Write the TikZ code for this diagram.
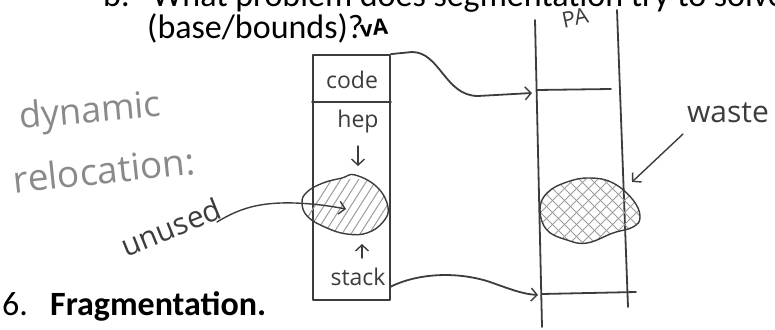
\documentclass[tikz,border=0pt]{standalone}
\usepackage{fontspec}
\setmainfont{Carlito}
\newfontfamily\printfont{Carlito}
\newfontfamily\handfont{Open Sans}
\usetikzlibrary{arrows.meta}
\definecolor{ink}{HTML}{3C3C3C}
\definecolor{penlight}{HTML}{8A8A8A}
\definecolor{hatchgray}{HTML}{9C9C9C}

\begin{document}
\begin{tikzpicture}[x=1pt,y=-1pt,
  print/.style={font=\printfont\fontsize{34}{38}\selectfont, anchor=base west, inner sep=0pt, text=black},
  printbold/.style={print, font=\printfont\fontsize{34}{38}\selectfont\bfseries},
  hand/.style={font=\handfont\fontsize{#1}{#1}\selectfont, text=ink, inner sep=0pt},
  pen/.style={draw=ink, line width=1.8pt, line cap=round, line join=round},
  thinpen/.style={draw=ink, line width=1.4pt, line cap=round, line join=round},
  barb/.style={-{Straight Barb[length=6pt,width=13pt,line width=1.4pt]}},
  hatch/.style={draw=hatchgray, line width=1pt}]

\useasboundingbox (0,0) rectangle (775,329);
\clip (0,0) rectangle (775,329);

% printed question text
\node[print] (qlabel) at (103,7) {b.};
\node[print] (qline1) at (152,7) {What problem does segmentation try to solve that};
\node[print] (qline2) at (147,38) {(base/bounds)?};
\node[font=\handfont\bfseries\fontsize{22}{22}\selectfont, inner sep=0pt, rotate=5] (vamark) at (374,28) {vA};
\node[print] (num6) at (2,315) {6.};
\node[printbold] (frag) at (50,315) {Fragmentation.};

% side notes
\node[hand=36, text=penlight, rotate=5] (dyn) at (90,113) {dynamic};
\node[hand=37, text=penlight, rotate=6] (reloc) at (104,170) {relocation:};

% virtual address space
\node[pen, minimum width=77pt, minimum height=245pt, inner sep=0pt] (va) at (351.5,177.5) {};
\coordinate (divy) at (0,102);
\draw[pen] (va.west |- divy) -- (va.east |- divy);
\node[hand=23] (code) at (352,80) {code};
\node[hand=23] (heap) at (358,122) {hep};
\node[hand=23] (stack) at (358,277) {stack};
\draw[thinpen, barb] (358,146) -- (358,166);
\draw[thinpen, barb] (362,258) -- (362,244);

% unused hole between heap and stack
\def\vahole{(355,175) (377,187) (388,207) (383,222) (367,233) (347,234) (327,228) (308,217) (302,203) (307,192) (323,183) (342,178)}
\begin{scope}
  \clip plot[smooth cycle, tension=0.7] coordinates {\vahole};
  \foreach \k in {0,...,14} \draw[hatch] (290+\k*9,245) -- ++(42,-66);
\end{scope}
\draw[thinpen] plot[smooth cycle, tension=0.7] coordinates {\vahole};

% physical memory column
\coordinate (paLT) at (535,20);
\coordinate (paLB) at (542,327);
\coordinate (paRT) at (617,10);
\coordinate (paRB) at (628,307);
\draw[pen] (paLT) -- (paLB);
\draw[pen] (paRT) -- (paRB);
\draw[pen] (537,90) -- (611,89);
\draw[pen] (542,294) -- (636,292);
\node[hand=22, rotate=12] (palabel) at (575,18) {PA};

% wasted space in physical memory
\def\pahole{(540,210) (547,193) (567,182) (590,178) (613,183) (633,200) (640,217) (633,227) (613,233) (587,243) (567,240) (547,230)}
\begin{scope}
  \clip plot[smooth cycle, tension=0.7] coordinates {\pahole};
  \foreach \k in {0,...,18} {
    \draw[hatch] (450+\k*12,255) -- ++(85,-85);
    \draw[hatch] (450+\k*12,170) -- ++(85,85);
  }
\end{scope}
\draw[thinpen] plot[smooth cycle, tension=0.7] coordinates {\pahole};

% mappings from virtual segments to physical memory
\coordinate (paCode) at (532,93);
\draw[pen, barb] (va.north east) -- (412,52) .. controls (440,52) and (445,96) .. (478,96) -- (paCode);
\coordinate (vaStackOut) at (390,287);
\coordinate (paStack) at (538,295);
\draw[pen, barb] (vaStackOut) .. controls (420,272) and (460,272) .. (490,282) .. controls (510,289) and (522,294) .. (paStack);

% annotations
\node[hand=30, rotate=22] (unused) at (171,227) {unused};
\coordinate (unusedTail) at (217,222);
\coordinate (vaHole) at (346,209);
\draw[thinpen, barb] (unusedTail) .. controls (240,208) and (260,202) .. (295,203) .. controls (320,204) and (335,207) .. (vaHole);

\node[hand=30] (waste) at (728,113) {waste};
\coordinate (wasteTail) at (683,134);
\coordinate (paHoleEdge) at (632,182);
\draw[thinpen, barb] (wasteTail) -- (paHoleEdge);
\end{tikzpicture}
\end{document}
